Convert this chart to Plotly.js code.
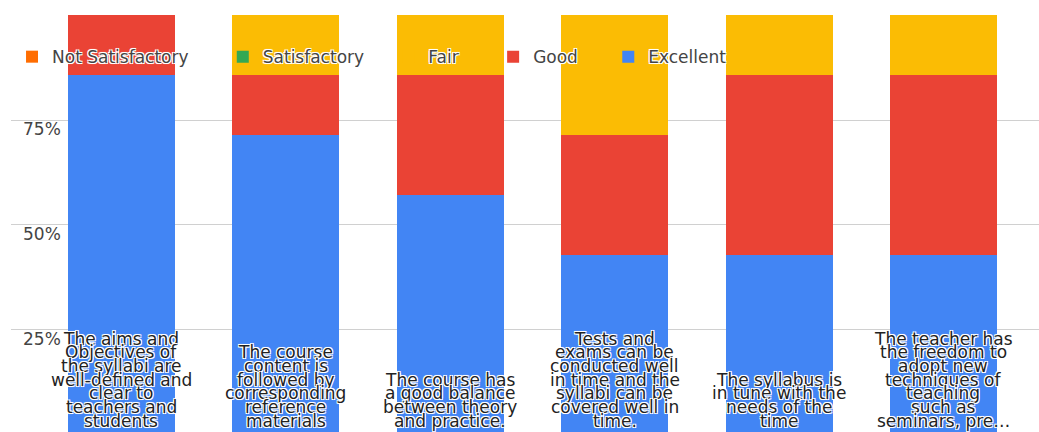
<!DOCTYPE html>
<html>
<head>
<meta charset="utf-8">
<script src="https://cdn.plot.ly/plotly-3.0.1.min.js"></script>
<style>
html,body{margin:0;padding:0;background:#fff;}
#chart{width:1039px;height:432px;}
</style>
</head>
<body>
<div id="chart"></div>
<script>
// Categories (survey statements), wrapped into lines as shown under each bar
var categories = [
  "The aims and Objectives of the syllabi are well-defined and clear to teachers and students",
  "The course content is followed by corresponding reference materials",
  "The course has a good balance between theory and practice.",
  "Tests and exams can be conducted well in time and the syllabi can be covered well in time.",
  "The syllabus is in tune with the needs of the time",
  "The teacher has the freedom to adopt new techniques of teaching such as seminars, pre…"
];
var categoryLines = [
  ["The aims and","Objectives of","the syllabi are","well-defined and","clear to","teachers and","students"],
  ["The course","content is","followed by","corresponding","reference","materials"],
  ["The course has","a good balance","between theory","and practice."],
  ["Tests and","exams can be","conducted well","in time and the","syllabi can be","covered well in","time."],
  ["The syllabus is","in tune with the","needs of the","time"],
  ["The teacher has","the freedom to","adopt new","techniques of","teaching","such as","seminars, pre…"]
];

// Series values (percent of responses)
var excellent       = [85.7, 71.4, 57.1, 42.9, 42.9, 42.9];
var good            = [14.3, 14.3, 28.6, 28.6, 42.9, 42.9];
var fair            = [0.0, 14.3, 14.3, 28.6, 14.3, 14.3];
var satisfactory    = [0, 0, 0, 0, 0, 0];
var notSatisfactory = [0, 0, 0, 0, 0, 0];

var yTickVals  = [25, 50, 75, 100];
var yTickText  = ["25%", "50%", "75%", ""];

var FONT = "DejaVu Sans, Liberation Sans, Arial, sans-serif";
var HALO = "-1px -1px 0 #fff, 1px -1px 0 #fff, -1px 1px 0 #fff, 1px 1px 0 #fff, 0 0 2px #fff";

function bar(name, values, color, legendId) {
  return {
    type: "bar",
    name: name,
    x: categories,
    y: values,
    legend: legendId,
    marker: {color: color, line: {width: 0}},
    hoverinfo: "name+y"
  };
}

var data = [
  bar("Excellent", excellent, "#4285f4", "legend5"),
  bar("Good", good, "#ea4335", "legend4"),
  bar("Fair", fair, "#fbbc04", "legend3"),
  bar("Satisfactory", satisfactory, "#34a853", "legend2"),
  bar("Not Satisfactory", notSatisfactory, "#ff6d01", "legend")
];

function legendAt(xPaper) {
  return {
    orientation: "h",
    x: xPaper, xanchor: "left",
    y: 0.899, yanchor: "middle",
    bgcolor: "rgba(0,0,0,0)",
    borderwidth: 0,
    font: {family: FONT, size: 17, color: "#444", shadow: HALO},
    itemwidth: 30
  };
}

var annotations = [];
categoryLines.forEach(function (lines, i) {
  var n = lines.length;
  lines.forEach(function (line, k) {
    annotations.push({
      xref: "x", yref: "paper",
      x: categories[i], y: 0,
      xanchor: "center", yanchor: "middle",
      yshift: 11.3 + (n - 1 - k) * 13.7,
      text: line,
      showarrow: false,
      font: {family: FONT, size: 17, color: "#222", shadow: HALO}
    });
  });
});

var layout = {
  width: 1039, height: 432,
  margin: {l: 11, r: 0, t: 15, b: 0, pad: 0},
  paper_bgcolor: "#fff", plot_bgcolor: "#fff",
  barmode: "stack",
  bargap: 0.349,
  showlegend: true,
  legend: legendAt(0.001),
  legend2: legendAt(0.206),
  legend3: legendAt(0.367),
  legend4: legendAt(0.469),
  legend5: legendAt(0.581),
  xaxis: {
    type: "category",
    range: [-0.672, 5.581],
    showticklabels: false,
    showgrid: false, zeroline: false, showline: false, ticks: ""
  },
  yaxis: {
    range: [0.71, 100],
    tickvals: yTickVals,
    ticktext: yTickText,
    ticklabelposition: "inside",
    ticklabelshift: 9,
    ticklabelstandoff: 9,
    tickfont: {family: FONT, size: 17, color: "#444", shadow: HALO},
    showgrid: true, gridcolor: "#d0d0d0", gridwidth: 1,
    zeroline: false, showline: false, ticks: ""
  },
  annotations: annotations
};

Plotly.newPlot("chart", data, layout, {displayModeBar: false, staticPlot: true});
</script>
</body>
</html>
